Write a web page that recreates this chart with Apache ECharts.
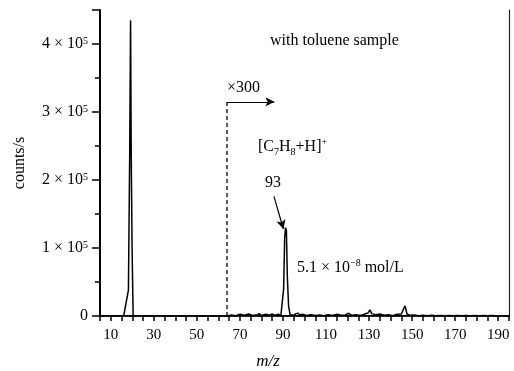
<!DOCTYPE html>
<html>
<head>
<meta charset="utf-8">
<script src="https://cdn.jsdelivr.net/npm/echarts@6/dist/echarts.min.js"></script>
<style>
html,body{margin:0;padding:0;background:#fff;}
#chart{width:514px;height:371px;}
</style>
</head>
<body>
<div id="chart"></div>
<script>
// m/z values and counts/s
const mz = [5, 16, 16.6, 18.2, 18.8, 19.2, 19.5, 19.9, 20.4, 64,
  66, 68, 70, 72, 74, 76, 78, 79, 80, 82, 84, 85, 86, 88, 89,
  89.5, 90.3, 90.8, 91.2, 91.6, 92.0, 92.6, 93.3, 94, 95, 96, 97, 98, 99,
  101, 103, 105, 107, 109, 111, 113, 115, 117, 119, 120.5, 122, 124, 126, 128,
  129.5, 130.4, 131.2, 132, 133, 135, 137, 139, 141, 143, 145, 146.7, 147.6,
  149, 151, 153, 155, 157, 159, 161, 163, 165, 167, 169, 171, 173, 175, 177,
  179, 181, 183, 185, 187, 189, 191, 193, 195];
const counts = [0, 0, 0, 38000, 240000, 435000, 240000, 100000, 0, 0,
  1500, 500, 2500, 1000, 3000, 800, 2000, 3500, 800, 2500, 1200, 3000, 1000, 2500, 0,
  0, 40000, 115000, 130000, 125000, 60000, 15000, 2000, 3000, 1000, 3500, 4000, 1500, 2500,
  800, 2000, 600, 1500, 500, 2000, 800, 2500, 1000, 1500, 4000, 1000, 2000, 800, 3000,
  4500, 9000, 3500, 5000, 2000, 3000, 1200, 2000, 500, 2500, 3000, 15000, 3000,
  1000, 1500, 500, 1200, 400, 1000, 300, 800, 400, 900, 300, 700, 300, 800, 300,
  600, 300, 700, 200, 600, 300, 500, 200, 400];

// ×300 magnification marker
const magStart = 64;
const magLevel = 315000;
const magArrowEnd = 86;
// arrow pointing to the m/z 93 peak
const peakArrowFrom = [85.8, 176000];
const peakArrowTo = [90.2, 128000];

const xTickLabels = [10, 30, 50, 70, 90, 110, 130, 150, 170, 190];
const yTickLabels = [0, 100000, 200000, 300000, 400000];

const serif = '"Liberation Serif", "Times New Roman", serif';

const chart = echarts.init(document.getElementById('chart'), null, {renderer: 'canvas'});

const spectrum = mz.map((m, i) => [m, counts[i]]);

chart.setOption({
  animation: false,
  backgroundColor: '#fff',
  grid: {left: 100, right: 5, top: 10, bottom: 55, containLabel: false, outerBoundsMode: 'none'},
  xAxis: [{
    type: 'value', min: 5, max: 195, interval: 5,
    axisLine: {show: true, onZero: false, lineStyle: {color: '#000', width: 2}},
    axisTick: {show: true, length: 5, lineStyle: {color: '#000', width: 1.5}},
    splitLine: {show: false},
    axisLabel: {
      color: '#000', fontFamily: serif, fontSize: 15, margin: 12,
      formatter: v => xTickLabels.indexOf(v) >= 0 ? String(v) : ''
    }
  }, {
    type: 'value', min: 5, max: 195, position: 'top',
    axisLine: {show: true, lineStyle: {color: '#222', width: 1.2}},
    axisTick: {show: false}, axisLabel: {show: false}, splitLine: {show: false}
  }],
  yAxis: [{
    type: 'value', min: 0, max: 450000, interval: 100000,
    name: 'counts/s', nameLocation: 'middle', nameGap: 72, nameRotate: 90,
    nameTextStyle: {color: '#000', fontFamily: serif, fontSize: 16},
    axisLine: {show: true, onZero: false, lineStyle: {color: '#000', width: 2}},
    axisTick: {show: true, length: 8, lineStyle: {color: '#000', width: 1.5}},
    minorTick: {show: true, splitNumber: 2, length: 5, lineStyle: {color: '#000', width: 1.5}},
    splitLine: {show: false},
    axisLabel: {
      color: '#000', fontFamily: serif, fontSize: 16, margin: 12,
      formatter: v => {
        if (yTickLabels.indexOf(v) < 0) return '';
        if (v === 0) return '0';
        return (v / 100000) + ' × 10{s|5}';
      },
      rich: {s: {fontFamily: serif, fontSize: 10, color: '#000', verticalAlign: 'top', lineHeight: 10}}
    }
  }, {
    type: 'value', min: 0, max: 450000, position: 'right',
    axisLine: {show: true, lineStyle: {color: '#222', width: 1.2}},
    axisTick: {show: false}, axisLabel: {show: false}, splitLine: {show: false}
  }],
  series: [{
    type: 'line', data: spectrum, showSymbol: false, symbol: 'none',
    lineStyle: {color: '#000', width: 1.5}, z: 3
  }, {
    type: 'line', data: [[magStart, 0], [magStart, magLevel]], showSymbol: false, symbol: 'none',
    lineStyle: {color: '#000', width: 1.3, type: [4, 3]},
    markLine: {
      silent: true, symbol: ['none', 'arrow'], symbolSize: [7, 9],
      label: {show: false},
      lineStyle: {color: '#000', width: 1.2, type: 'solid'},
      data: [
        [{coord: [magStart, magLevel]}, {coord: [magArrowEnd, magLevel]}],
        [{coord: peakArrowFrom}, {coord: peakArrowTo}]
      ]
    }
  }],
  graphic: [
    {type: 'text', x: 270, y: 41, style: {text: 'with toluene sample', fill: '#000', font: '16px ' + serif, verticalAlign: 'middle'}},
    {type: 'text', x: 227, y: 88, style: {text: '×300', fill: '#000', font: '16px ' + serif, verticalAlign: 'middle'}},
    {type: 'text', x: 258, y: 147, style: {
      text: '{a|[C}{b|7}{a|H}{b|8}{a|+H]}{c|+}', verticalAlign: 'middle',
      rich: {
        a: {fontFamily: serif, fontSize: 16, color: '#000', lineHeight: 20},
        b: {fontFamily: serif, fontSize: 10, color: '#000', verticalAlign: 'bottom', lineHeight: 10},
        c: {fontFamily: serif, fontSize: 10, color: '#000', verticalAlign: 'top', lineHeight: 10}
      }
    }},
    {type: 'text', x: 265, y: 183, style: {text: '93', fill: '#000', font: '16px ' + serif, verticalAlign: 'middle'}},
    {type: 'text', x: 297, y: 268, style: {
      text: '{a|5.1 × 10}{c|−8}{a| mol/L}', verticalAlign: 'middle',
      rich: {
        a: {fontFamily: serif, fontSize: 16, color: '#000', lineHeight: 20},
        c: {fontFamily: serif, fontSize: 10, color: '#000', verticalAlign: 'top', lineHeight: 10}
      }
    }},
    {type: 'text', x: 268, y: 362, style: {text: 'm/z', fill: '#000', font: 'italic 17px ' + serif, align: 'center', verticalAlign: 'middle'}}
  ]
});
</script>
</body>
</html>
